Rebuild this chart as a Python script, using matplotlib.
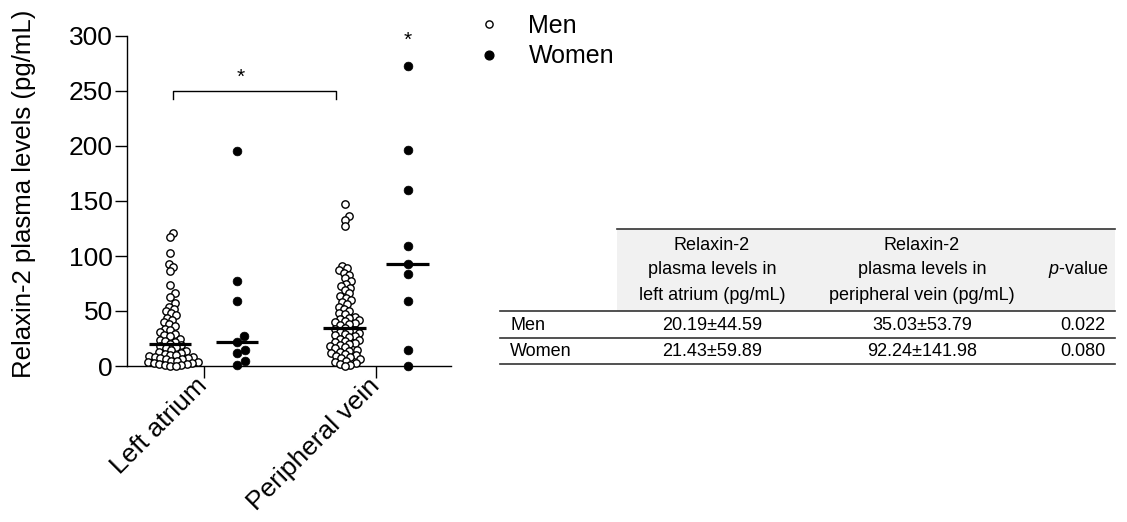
import numpy as np
import matplotlib
matplotlib.use('Agg')
import matplotlib.pyplot as plt
from matplotlib.lines import Line2D
from matplotlib.patches import Rectangle

plt.rcParams['font.family'] = ['Liberation Sans', 'DejaVu Sans']
plt.rcParams['mathtext.fontset'] = 'custom'
plt.rcParams['mathtext.it'] = 'Liberation Sans:italic'
plt.rcParams['mathtext.rm'] = 'Liberation Sans'

# ---------------- data ----------------
groups = ['Left atrium', 'Peripheral vein']
men_la = [121, 117, 103, 93, 90, 86, 74, 66, 63, 57, 54, 52, 50, 48, 46, 44, 42, 40,
          38, 36, 34, 33, 31, 29, 28, 27, 25, 24, 23, 22,
          20, 19, 18, 17, 16, 15, 14, 13, 12, 11, 10, 10, 9, 8, 8, 7, 7, 6, 6, 5, 5,
          4, 4, 3, 3, 2, 2, 1, 1, 0, 0]
women_la = [195, 77, 59, 27, 22, 15, 12, 5, 1]
men_pv = [147, 136, 133, 127, 91, 89, 87, 85, 83, 80, 77, 75, 73, 71, 69, 66, 64, 62,
          60, 58, 56, 54, 52, 50, 48, 47, 45, 44, 43, 42, 41, 40, 39, 38, 37,
          35,
          34, 33, 32, 31, 30, 29, 28, 27, 26, 25, 24, 23, 22, 21, 20, 19, 18, 17, 16,
          15, 14, 13, 12, 11, 10, 9, 8, 7, 6, 5, 4, 3, 2, 1, 0]
women_pv = [273, 196, 160, 109, 93, 84, 59, 15, 0]
yticks = [0, 50, 100, 150, 200, 250, 300]

table_rows = ['Men', 'Women']
table_header = ['Relaxin-2\nplasma levels in\nleft atrium (pg/mL)',
                'Relaxin-2\nplasma levels in\nperipheral vein (pg/mL)',
                r'$\mathit{p}$-value']
table_la = ['20.19\u00b144.59', '21.43\u00b159.89']
table_pv = ['35.03\u00b153.79', '92.24\u00b1141.98']
table_p = ['0.022', '0.080']

# ---------------- layout ----------------
W, H = 1127, 522
fig = plt.figure(figsize=(W / 100, H / 100), dpi=100)

# overlay axes in pixel coordinates for the table
tax = fig.add_axes([0, 0, 1, 1])
tax.set_xlim(0, W)
tax.set_ylim(H, 0)
tax.axis('off')

X_END = 451
ax = fig.add_axes([127 / W, (H - 366) / H, (X_END - 127) / W, 330 / H])
PX_X = 67.0   # pixels per x-unit
PX_Y = 1.1    # pixels per y-unit
ax.set_xlim(-43 / PX_X, (X_END - 170) / PX_X)
ax.set_ylim(0, 300)

xpos = [0.0, 1.0, 2.61, 3.55]


def swarm(vals, d):
    order = np.argsort(vals, kind='stable')
    placed = []
    offs = np.zeros(len(vals))
    for i in order:
        y = vals[i] * PX_Y
        cands = [0.0]
        for px, py in placed:
            dy = y - py
            if abs(dy) < d:
                dx = np.sqrt(d * d - dy * dy)
                cands += [px + dx, px - dx]
        valid = [c for c in cands
                 if all((c - px) ** 2 + (y - py) ** 2 >= d * d - 1e-6 for px, py in placed)]
        best = min(valid, key=lambda c: (round(abs(c), 6), -c))
        placed.append((best, y))
        offs[i] = best / PX_X
    return offs


series = [(men_la, False), (women_la, True), (men_pv, False), (women_pv, True)]
for (vals, filled), x0 in zip(series, xpos):
    v = np.array(vals, dtype=float)
    d = 9.0 if filled else 5.6
    offs = swarm(v, d)
    if filled:
        ax.scatter(x0 + offs, v, s=6.3 ** 2, facecolor='black', edgecolor='black',
                   linewidth=0.5, zorder=3, clip_on=False)
    else:
        ax.scatter(x0 + offs, v, s=5.3 ** 2, facecolor='white', edgecolor='black',
                   linewidth=1.0, zorder=3, clip_on=False)
    med = np.median(v)
    ax.plot([x0 - 0.32, x0 + 0.32], [med, med], color='black', lw=2.3,
            solid_capstyle='butt', zorder=4)

# significance annotations
ax.plot([xpos[0] + 0.05, xpos[0] + 0.05, xpos[2] - 0.13, xpos[2] - 0.13],
        [243, 250, 250, 243], color='black', lw=1.0, clip_on=False)
ax.text((xpos[0] + xpos[2]) / 2 - 0.25, 262, '*', ha='center', va='center', fontsize=15)
ax.text(xpos[3], 296, '*', ha='center', va='center', fontsize=15, clip_on=False)

# axes styling
for s in ['top', 'right']:
    ax.spines[s].set_visible(False)
for s in ['left', 'bottom']:
    ax.spines[s].set_linewidth(1.0)
ax.set_yticks(yticks)
ax.set_yticklabels([str(t) for t in yticks], fontsize=19)
ax.set_xticks([(xpos[0] + xpos[1]) / 2, (xpos[2] + xpos[3]) / 2])
ax.set_xticklabels(groups, rotation=45, ha='right', va='center', rotation_mode='anchor',
                   fontsize=19)
ax.tick_params(axis='y', direction='out', length=9, width=1.0, pad=1)
ax.tick_params(axis='x', direction='out', length=8.5, width=1.0, pad=3)
ax.set_ylabel('Relaxin-2 plasma levels (pg/mL)', fontsize=18.5)
ax.yaxis.set_label_coords(-91 / (X_END - 127), (366 - 194) / 330)

# legend
handles = [Line2D([], [], ls='none', marker='o', markersize=5.2, markerfacecolor='white',
                  markeredgecolor='black', markeredgewidth=1.0),
           Line2D([], [], ls='none', marker='o', markersize=6.3, markerfacecolor='black',
                  markeredgecolor='black')]
fig.legend(handles, ['Men', 'Women'], loc='upper left', bbox_to_anchor=(476 / W, 1 - 14 / H),
           frameon=False, fontsize=18, handlelength=1.0, handletextpad=1.1,
           labelspacing=0.25, borderpad=0, borderaxespad=0)

# ---------------- table ----------------
x_left, x_right, x_hdr = 500, 1115, 617
y_top, y_hdr, y_mid, y_bot = 229, 311, 338, 364
tax.add_patch(Rectangle((x_hdr, y_top), x_right - x_hdr, y_hdr - y_top,
                        facecolor='#f1f1f1', edgecolor='none', zorder=0))
lc = '#333333'
tax.plot([x_hdr, x_right], [y_top, y_top], color=lc, lw=1.2)
for yy in [y_hdr, y_mid, y_bot]:
    tax.plot([x_left, x_right], [yy, yy], color=lc, lw=1.2)

col_x = [712, 922, 1078]
fs = 13
for cx, txt in zip(col_x, table_header):
    lines = txt.split('\n')
    if len(lines) == 3:
        for ly, line in zip([245, 270, 296], lines):
            tax.text(cx, ly, line, ha='center', va='center', fontsize=fs)
    else:
        tax.text(cx, 270, txt, ha='center', va='center', fontsize=fs)

row_y = [326, 351]
for ry, name, a, b, p in zip(row_y, table_rows, table_la, table_pv, table_p):
    tax.text(510, ry, name, ha='left', va='center', fontsize=fs)
    tax.text(col_x[0], ry, a, ha='center', va='center', fontsize=fs)
    tax.text(col_x[1], ry, b, ha='center', va='center', fontsize=fs)
    tax.text(col_x[2] + 5, ry, p, ha='center', va='center', fontsize=fs)

fig.savefig('out.png', dpi=100)
